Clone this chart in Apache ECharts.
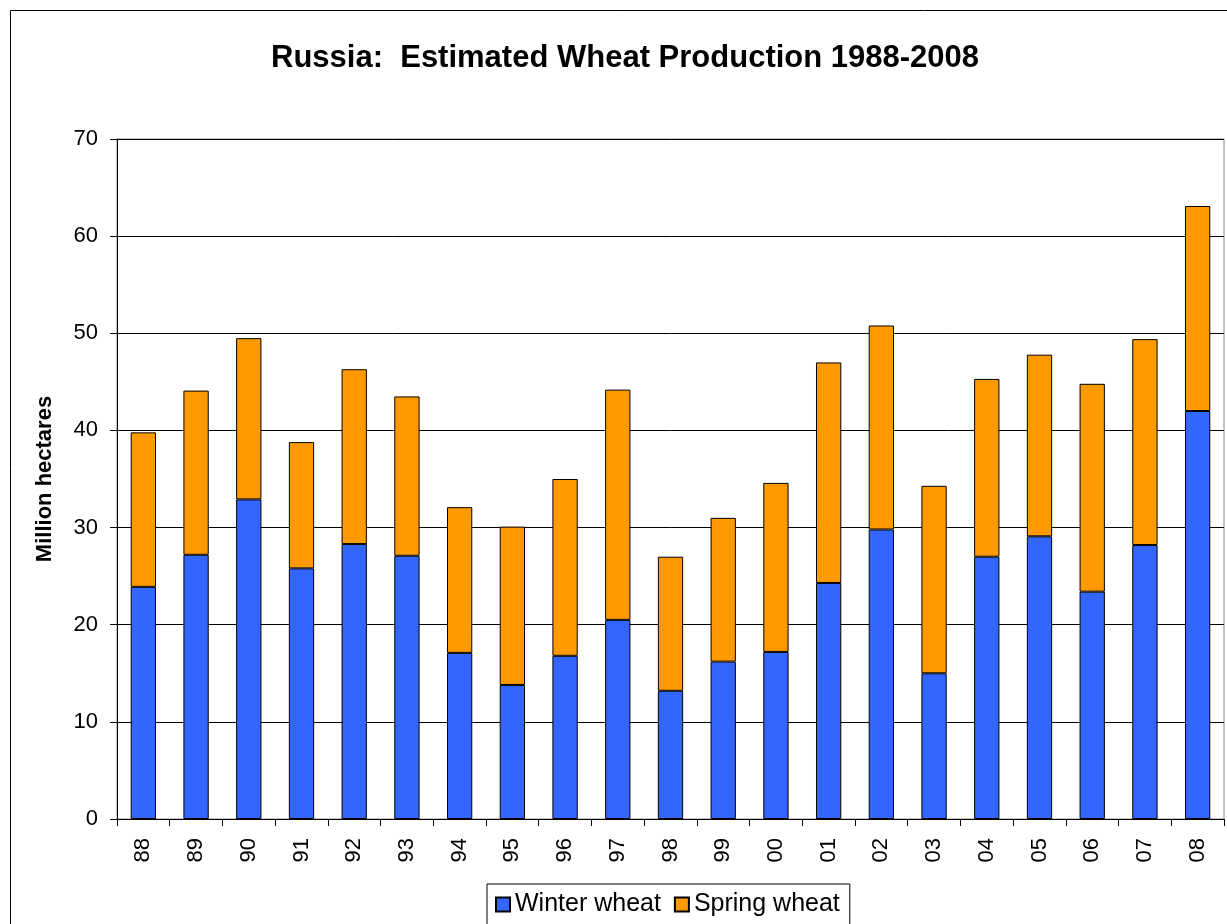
<!DOCTYPE html>
<html>
<head>
<meta charset="utf-8">
<script src="https://cdn.jsdelivr.net/npm/echarts@6/dist/echarts.min.js"></script>
<style>
html,body{margin:0;padding:0;background:#fff;}
#c{width:1227px;height:924px;}
</style>
</head>
<body>
<div id="c"></div>
<script>
const categories = ['88','89','90','91','92','93','94','95','96','97','98','99','00','01','02','03','04','05','06','07','08'];
const winterWheat = [23.9,27.2,32.9,25.8,28.3,27.1,17.1,13.8,16.8,20.5,13.2,16.2,17.2,24.3,29.8,15.0,27.0,29.1,23.4,28.2,42.0];
const springWheat = [15.9,16.9,16.6,13.0,18.0,16.4,15.0,16.3,18.2,23.7,13.8,14.8,17.4,22.7,21.0,19.3,18.3,18.7,21.4,21.2,21.1];
const yTicks = [0,10,20,30,40,50,60,70];

const chart = echarts.init(document.getElementById('c'), null, {renderer:'canvas'});
const font = 'Liberation Sans, Arial, sans-serif';
chart.setOption({
  animation:false,
  backgroundColor:'#fff',
  title:{
    text:'Russia:  Estimated Wheat Production 1988-2008',
    left:266, top:38,
    textStyle:{fontFamily:font,fontSize:31,fontWeight:'bold',color:'#000'}
  },
  graphic:[{type:'rect',shape:{x:10.5,y:10.5,width:1226,height:930},style:{fill:null,stroke:'#000',lineWidth:1},silent:true,z:-1}],
  legend:{
    left:487, top:884,
    data:['Winter wheat','Spring wheat'],
    itemWidth:14,itemHeight:14,itemGap:13,
    padding:[8,10,10,8],
    borderColor:'#000',borderWidth:1,backgroundColor:'#fff',
    textStyle:{fontFamily:font,fontSize:25,color:'#000'},
    icon:'rect'
  },
  grid:{left:117,right:3,top:139,bottom:105,show:true,borderColor:'#888',borderWidth:1,containLabel:false},
  xAxis:{
    type:'category',data:categories,
    axisLine:{lineStyle:{color:'#000',width:1}},
    axisTick:{show:true,alignWithLabel:false,length:7,lineStyle:{color:'#000'}},
    axisLabel:{rotate:90,fontFamily:font,fontSize:22,color:'#000',margin:19}
  },
  yAxis:{
    type:'value',min:yTicks[0],max:yTicks[yTicks.length-1],interval:10,
    name:'Million hectares',nameLocation:'middle',nameGap:61,
    nameTextStyle:{fontFamily:font,fontSize:22,fontWeight:'bold',color:'#000'},
    axisLine:{show:true,lineStyle:{color:'#000'}},
    axisTick:{show:true,length:7,lineStyle:{color:'#000'}},
    axisLabel:{fontFamily:font,fontSize:22,color:'#000',margin:19},
    splitLine:{lineStyle:{color:'#000',width:1}}
  },
  series:[
    {name:'Winter wheat',type:'bar',stack:'w',data:winterWheat,barWidth:'48%',
     itemStyle:{color:'#3366FF',borderColor:'#000',borderWidth:1}},
    {name:'Spring wheat',type:'bar',stack:'w',data:springWheat,barWidth:'48%',
     itemStyle:{color:'#FF9900',borderColor:'#000',borderWidth:1}}
  ]
});
</script>
</body>
</html>
